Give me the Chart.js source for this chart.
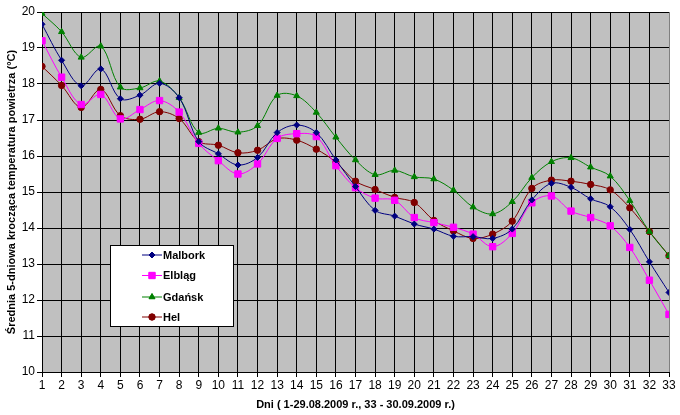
<!DOCTYPE html>
<html>
<head>
<meta charset="utf-8">
<script src="https://cdn.jsdelivr.net/npm/chart.js@4"></script>
<style>
  html, body { margin: 0; padding: 0; background: #fff; }
  #wrap { width: 680px; height: 415px; }
</style>
</head>
<body>
<div id="wrap"><canvas id="myChart" width="680" height="415"></canvas></div>
<script>
const dni = [1, 2, 3, 4, 5, 6, 7, 8, 9, 10, 11, 12, 13, 14, 15, 16, 17,
             18, 19, 20, 21, 22, 23, 24, 25, 26, 27, 28, 29, 30, 31, 32, 33];

const malbork = [19.66, 18.66, 17.95, 18.42, 17.59, 17.69, 18.02, 17.62, 16.40, 16.06,
                 15.75, 15.96, 16.65, 16.86, 16.65, 15.89, 15.15, 14.49, 14.33, 14.11, 13.97, 13.77,
                 13.76, 13.71, 13.97, 14.78, 15.24, 15.13, 14.81, 14.59, 13.96, 13.06, 12.21];
const elblag = [19.20, 18.19, 17.43, 17.71, 17.03, 17.29, 17.54, 17.22, 16.35, 15.87,
                15.50, 15.78, 16.49, 16.62, 16.54, 15.73, 15.12, 14.83, 14.77, 14.29, 14.15, 14.02,
                13.83, 13.48, 13.85, 14.70, 14.89, 14.47, 14.29, 14.06, 13.46, 12.55, 11.60];
const gdansk = [19.96, 19.45, 18.74, 19.05, 17.91, 17.89, 18.08, 17.62, 16.65, 16.77,
                16.66, 16.84, 17.68, 17.67, 17.21, 16.52, 15.89, 15.48, 15.60, 15.42, 15.36, 15.05,
                14.58, 14.39, 14.73, 15.40, 15.84, 15.95, 15.69, 15.44, 14.76, 13.90, 13.23];
const hel = [18.49, 17.96, 17.35, 17.85, 17.12, 17.02, 17.23, 17.04, 16.40, 16.30,
             16.09, 16.16, 16.48, 16.44, 16.19, 15.83, 15.30, 15.07, 14.85, 14.71, 14.21, 13.92,
             13.71, 13.83, 14.19, 15.10, 15.33, 15.30, 15.21, 15.06, 14.56, 13.90, 13.23];

const yMin = 10;
const yMax = 20;

const FONT = 'Arial, "Liberation Sans", sans-serif';

function seria(label, values, color, style, radius) {
    return {
        label: label,
        data: values.map((v, i) => ({ x: dni[i], y: v })),
        borderColor: color,
        backgroundColor: color,
        borderWidth: 1,
        pointStyle: style,
        pointRadius: radius,
        pointHoverRadius: radius,
        pointBorderWidth: 1,
        tension: 0.35
    };
}

// szare tlo obszaru wykresu
const tloPlugin = {
    id: 'tlo',
    beforeDraw(chart) {
        const a = chart.chartArea;
        const ctx = chart.ctx;
        ctx.save();
        ctx.fillStyle = '#C0C0C0';
        ctx.fillRect(a.left, a.top, a.right - a.left, a.bottom - a.top);
        ctx.restore();
    }
};

// legenda w ramce wewnatrz wykresu
const legendaPlugin = {
    id: 'legendaBox',
    afterDraw(chart) {
        const ctx = chart.ctx;
        const bx = 110.5, by = 245.5, bw = 123, bh = 81;
        ctx.save();
        ctx.fillStyle = '#fff';
        ctx.fillRect(bx, by, bw, bh);
        ctx.strokeStyle = '#000';
        ctx.lineWidth = 1;
        ctx.strokeRect(bx, by, bw, bh);
        const rows = [255, 275.5, 297, 317];
        chart.data.datasets.forEach((ds, i) => {
            const y = rows[i];
            ctx.strokeStyle = ds.borderColor;
            ctx.beginPath();
            ctx.moveTo(142, y);
            ctx.lineTo(162, y);
            ctx.stroke();
            ctx.fillStyle = ds.backgroundColor;
            Chart.helpers.drawPoint(ctx, {
                pointStyle: ds.pointStyle,
                radius: ds.pointRadius,
                borderWidth: 1
            }, 152, y);
            ctx.fill();
            ctx.fillStyle = '#000';
            ctx.font = 'bold 11px ' + FONT;
            ctx.textBaseline = 'middle';
            ctx.textAlign = 'left';
            ctx.fillText(ds.label, 163, y + 0.5);
        });
        ctx.restore();
    }
};

const config = {
    type: 'line',
    data: {
        datasets: [
            seria('Malbork', malbork, '#000080', 'rectRot', 3),
            seria('Elbląg', elblag, '#FF00FF', 'rect', 4.5),
            seria('Gdańsk', gdansk, '#008000', 'triangle', 3.5),
            seria('Hel', hel, '#800000', 'circle', 3.2)
        ]
    },
    options: {
        responsive: false,
        animation: false,
        layout: { padding: { top: 12, right: 11, left: 0, bottom: 0 } },
        scales: {
            x: {
                type: 'linear',
                min: 1,
                max: 33,
                afterFit(scale) { scale.height = 43; },
                ticks: {
                    stepSize: 1,
                    autoSkip: false,
                    maxRotation: 0,
                    padding: 1,
                    color: '#000',
                    font: { family: FONT, size: 12 }
                },
                grid: {
                    color: ctx => (ctx.index === 32 ? '#808080' : '#000'),
                    tickLength: 5,
                    tickColor: '#000',
                    lineWidth: 1
                },
                border: { color: '#000' },
                title: {
                    display: true,
                    text: 'Dni ( 1-29.08.2009 r., 33 - 30.09.2009 r.)',
                    color: '#000',
                    font: { family: FONT, size: 11, weight: 'bold' },
                    padding: { top: 0, bottom: 3 }
                }
            },
            y: {
                min: yMin,
                max: yMax,
                afterFit(scale) { scale.width = 42; },
                ticks: {
                    stepSize: 1,
                    padding: 2,
                    color: '#000',
                    font: { family: FONT, size: 12 }
                },
                grid: {
                    color: '#000',
                    tickLength: 5,
                    lineWidth: 1
                },
                border: { color: '#000' },
                title: {
                    display: true,
                    text: 'Średnia 5-dniowa krocząca temperatura powietrza (°C)',
                    color: '#000',
                    font: { family: FONT, size: 11, weight: 'bold' },
                    padding: { top: 5, bottom: 0 }
                }
            }
        },
        plugins: {
            legend: { display: false },
            tooltip: { enabled: false }
        }
    },
    plugins: [tloPlugin, legendaPlugin]
};

const myChart = new Chart(document.getElementById('myChart'), config);
</script>
</body>
</html>
